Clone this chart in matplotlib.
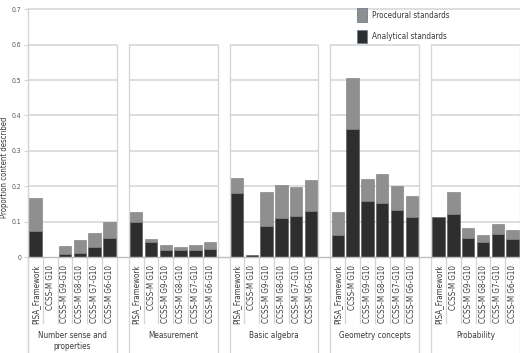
import matplotlib
matplotlib.use("Agg")
import matplotlib.pyplot as plt
import matplotlib.transforms as mtransforms
from matplotlib.patches import Rectangle

plt.rcParams['font.family'] = ['DejaVu Sans']
plt.rcParams['font.stretch'] = 'condensed'

# ---------------- data ----------------
groups = ["Number sense and\nproperties", "Measurement", "Basic algebra",
          "Geometry concepts", "Probability"]
documents = ["PISA_Framework", "CCSS-M G10", "CCSS-M G9-G10",
             "CCSS-M G8-G10", "CCSS-M G7-G10", "CCSS-M G6-G10"]
series_names = ["Procedural standards", "Analytical standards"]

analytical_number = [0.073, 0.000, 0.009, 0.011, 0.028, 0.055]
procedural_number = [0.093, 0.000, 0.023, 0.036, 0.039, 0.043]
analytical_measure = [0.098, 0.042, 0.021, 0.020, 0.019, 0.024]
procedural_measure = [0.028, 0.008, 0.013, 0.009, 0.016, 0.019]
analytical_algebra = [0.182, 0.006, 0.089, 0.109, 0.116, 0.131]
procedural_algebra = [0.042, 0.001, 0.095, 0.094, 0.081, 0.088]
analytical_geometry = [0.062, 0.363, 0.159, 0.154, 0.132, 0.112]
procedural_geometry = [0.064, 0.142, 0.062, 0.081, 0.070, 0.061]
analytical_prob = [0.112, 0.121, 0.053, 0.042, 0.065, 0.052]
procedural_prob = [0.000, 0.062, 0.028, 0.021, 0.029, 0.025]

analytical = [analytical_number, analytical_measure, analytical_algebra,
              analytical_geometry, analytical_prob]
procedural = [procedural_number, procedural_measure, procedural_algebra,
              procedural_geometry, procedural_prob]
yticks = [0, 0.1, 0.2, 0.3, 0.4, 0.5, 0.6, 0.7]
ylabel = "Proportion content described"

# ---------------- style ----------------
DARK = "#2e2e2e"
GRAY = "#8f8f8f"
GRID = "#d4d4d4"
TXT = "#3a3a3a"

W, H = 520, 353
fig = plt.figure(figsize=(W / 100, H / 100), dpi=100)
ax = fig.add_axes([28 / W, 1 - 257 / H, (W - 28) / W, (257 - 9.3) / H])

pitch = 6.82
n = len(documents)
xmax = pitch * (len(groups) - 1) + n
ax.set_xlim(0, xmax)
ax.set_ylim(0, 0.7)
for s in ax.spines.values():
    s.set_visible(False)

trans = mtransforms.blended_transform_factory(ax.transData, ax.transAxes)

for g in range(len(groups)):
    x0 = g * pitch
    x1 = x0 + n
    for yv in yticks[1:-1]:
        ax.plot([x0, x1], [yv, yv], color=GRID, lw=1.1, zorder=0, solid_capstyle='butt')
    for xe in (x0, x1):
        ax.plot([xe, xe], [-0.388, 0.6 / 0.7], transform=trans, color=GRID, lw=0.9,
                clip_on=False, zorder=0)
    for i in range(1, n):
        ax.plot([x0 + i, x0 + i], [-0.266, 0], transform=trans, color=GRID, lw=0.9,
                clip_on=False, zorder=0)
    xs = [x0 + i + 0.5 for i in range(n)]
    ax.bar(xs, analytical[g], width=0.84, color=DARK, edgecolor="#505050", lw=0.4, zorder=2)
    ax.bar(xs, procedural[g], width=0.84, bottom=analytical[g], color=GRAY,
           edgecolor="#7a7a7a", lw=0.4, zorder=2)
    for i, lab in enumerate(documents):
        ax.text(xs[i], -0.032, lab, transform=trans, rotation=90, ha='center', va='top',
                fontsize=5.8, color=TXT)
    ax.text(x0 + n / 2, -0.300, groups[g], transform=trans, ha='center', va='top',
            fontsize=5.9, color=TXT, linespacing=1.2)

ax.plot([0, xmax], [0.7, 0.7], color=GRID, lw=1.1, zorder=0, clip_on=False)
ax.plot([0, xmax], [0, 0], color="#bdbdbd", lw=1.0, zorder=3, clip_on=False)
ax.plot([0, 0], [-0.388, 1.0], transform=trans, color=GRID, lw=0.9, clip_on=False, zorder=0)

ax.set_xticks([])
ax.set_yticks(yticks)
ax.set_yticklabels([f"{v:g}" for v in yticks])
ax.tick_params(axis='y', length=3, width=0.8, color=GRID, pad=2, labelsize=4.9,
               labelcolor="#555555")

fig.text(5 / W, 1 - 167 / H, ylabel, rotation=90, ha='center', va='center',
         fontsize=5.6, color=TXT)

leg_colors = [GRAY, DARK]
leg_y = [(8, 22), (30, 43)]
for (ya, yb), c, name in zip(leg_y, leg_colors, series_names):
    fig.patches.append(Rectangle((357 / W, 1 - yb / H), 10 / W, (yb - ya) / H,
                                 transform=fig.transFigure, facecolor=c,
                                 edgecolor="#6f7f90", lw=0.6))
    fig.text(372 / W, 1 - ((ya + yb) / 2) / H, name, ha='left', va='center',
             fontsize=5.9, color=TXT)

fig.savefig("out.png", dpi=100)
